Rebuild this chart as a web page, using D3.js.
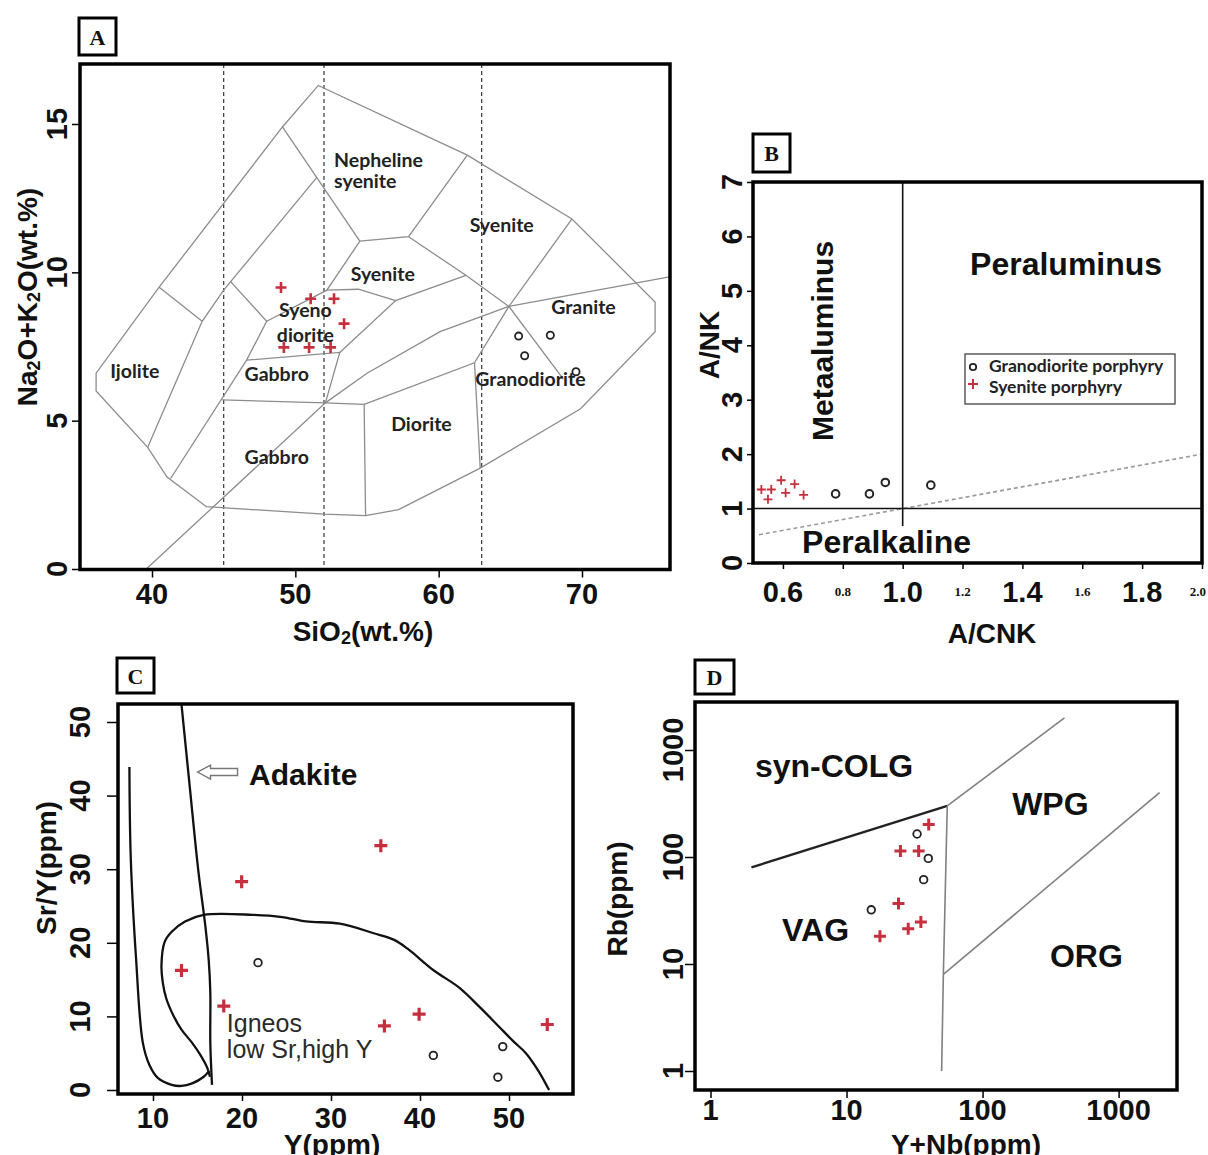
<!DOCTYPE html>
<html>
<head>
<meta charset="utf-8">
<script src="https://cdnjs.cloudflare.com/ajax/libs/d3/7.8.5/d3.min.js"></script>
<style>
body { margin:0; background:#fff; }
svg { display:block; }
text { font-family:"Liberation Sans", Arial, sans-serif; fill:#111; }
.tk { font-size:29px; font-weight:bold; }
.tks { font-family:"Liberation Serif", serif; font-size:13px; font-weight:bold; }
.ttl { font-size:28px; font-weight:bold; }
.big { font-size:32px; font-weight:bold; }
.meta { font-size:30px; font-weight:bold; }
.fld { font-family:Lato, sans-serif; font-size:19.5px; font-weight:bold; fill:#222; }
.leg { font-family:Lato, sans-serif; font-size:17.5px; font-weight:bold; fill:#222; }
.tag { font-family:"Liberation Serif", serif; font-size:22px; font-weight:bold; }
.ign { font-size:25px; fill:#2a2a2a; }
.frame { fill:none; stroke:#000; stroke-width:3.5; }
.axis line { stroke:#000; stroke-width:1.5; }
.axis .domain { display:none; }
</style>
</head>
<body>
<svg width="1208" height="1155"></svg>
<script>

/* ----------------------------------------------------------
data
---------------------------------------------------------- */

// A : SiO2 / Na2O+K2O  (plutonic TAS)
var tasXTicks = [40, 50, 60, 70];
var tasYTicks = [0, 5, 10, 15];
var tasDash = [45, 52, 63];
var tasOutline = [[43.8,2.1],[41.05,3.1],[39.7,4.1],[36.1,6.0],[36.1,6.6],[40.5,9.5],[49.1,14.9],[51.6,16.3],
	[62.0,13.95],[69.3,11.8],[75.1,9.0],[75.1,8.0],[69.9,5.4],[62.9,3.4],[57.2,2.0],[54.9,1.8],[52.0,1.85],[43.8,2.1]];
var tasLines = [
	[[49.1,14.9],[54.5,11.05]],
	[[62.0,13.95],[57.9,11.2],[54.5,11.05]],
	[[57.9,11.2],[61.9,9.9],[64.9,8.85]],
	[[61.9,9.9],[57.0,9.05],[53.1,7.3]],
	[[54.5,11.05],[52.2,9.4],[48.0,8.35]],
	[[52.2,9.4],[54.4,9.43],[57.0,9.05]],
	[[51.5,13.2],[45.0,9.4],[43.5,8.35],[39.7,4.1]],
	[[40.5,9.5],[43.5,8.35]],
	[[45.5,9.68],[48.0,8.35],[46.6,7.04],[41.3,3.05]],
	[[46.6,7.04],[53.1,7.3],[52.1,5.6]],
	[[44.9,5.7],[52.1,5.6],[54.8,5.55],[54.9,1.8]],
	[[54.8,5.55],[62.5,6.95],[64.9,8.85]],
	[[69.3,11.8],[64.9,8.85],[68.7,6.4]],
	[[62.5,6.95],[62.9,3.4]],
	[[39.6,0],[52.1,5.6],[55.0,6.6],[60.1,8.0],[64.9,8.85],[76.1,9.85]]
];
var tasFields = [
	["Nepheline",52.7,13.55,"start"],["syenite",52.7,12.85,"start"],
	["Syenite",64.4,11.35,"middle"],["Syenite",56.1,9.7,"middle"],
	["Syeno",50.7,8.48,"middle"],["diorite",50.7,7.64,"middle"],
	["Ijolite",38.8,6.45,"middle"],["Gabbro",48.7,6.35,"middle"],["Gabbro",48.7,3.55,"middle"],
	["Diorite",58.8,4.66,"middle"],["Granite",70.1,8.6,"middle"],["Granodiorite",66.4,6.18,"middle"]
];
var tasSyenite = [[49.0,9.49],[51.07,9.11],[52.7,9.11],[53.4,8.27],[49.2,7.47],[50.96,7.47],[52.46,7.47]];
var tasGranodiorite = [[65.58,7.85],[67.79,7.88],[66.0,7.19],[69.58,6.65]];

// B : A/CNK / A/NK
var acnkTicks = [0.6, 0.8, 1.0, 1.2, 1.4, 1.6, 1.8, 2.0];
var acnkBig = ["0.6", "1.0", "1.4", "1.8"];
var ankTicks = [0, 1, 2, 3, 4, 5, 6, 7];
var shandSyenite = [[0.528,1.35],[0.561,1.35],[0.55,1.17],[0.594,1.52],[0.609,1.29],[0.639,1.45],[0.669,1.25]];
var shandGranodiorite = [[0.776,1.27],[0.889,1.27],[0.942,1.48],[1.094,1.43]];
var legendVals = ["Granodiorite porphyry", "Syenite porphyry"];

// C : Y / Sr/Y
var cXTicks = [10, 20, 30, 40, 50];
var cYTicks = [0, 10, 20, 30, 40, 50];
var adakLeft = [[7.35,43.9],[7.5,31.6],[8.1,17.8],[8.86,6.4],[9.6,3.4],[10.57,1.6],[12.1,0.7],[13.2,0.55],[14.4,0.9],[15.7,1.8],[16.3,2.6]];
var adakRight = [[13.2,52.4],[14.17,40.7],[15.1,29.7],[15.87,22.4],[16.25,17.8],[16.44,13.3],[16.44,6.4],[16.63,0.7]];
var igneosField = [[16.4,1.8],[16.1,3.0],[15.3,4.8],[14.4,6.4],[13.2,8.2],[12.3,10.1],[11.5,12.4],[11.1,14.6],[10.95,16.9],
	[11.3,20.1],[12.1,21.5],[13.6,22.9],[15.7,23.8],[21.2,23.8],[24.5,23.5],[27.2,22.9],[31.0,22.6],[34.8,21.3],[37.1,20.4],
	[38.6,19.2],[41.6,16.2],[44.3,14.0],[46.6,11.4],[48.8,8.7],[50.5,6.6],[51.9,5.0],[53.3,2.6],[54.5,0]];
var adakArrow = [[19.5,43.2],[15.0,43.2]];
var adakSyenite = [[13.2,16.25],[19.96,28.3],[35.6,33.2],[17.95,11.4],[36.0,8.7],[39.9,10.3],[54.3,8.9]];
var adakGranodiorite = [[21.8,17.3],[41.5,4.7],[49.3,5.9],[48.75,1.74]];

// D : Y+Nb / Rb
var dTicks = [1, 10, 100, 1000];
var pearceColg = [[2,80],[55,300]];
var pearceLines = [[[55,300],[400,2000]], [[55,300],[51.5,8],[50,1]], [[51.5,8],[2000,400]]];
var pearceFields = [["syn-COLG",2.12,560],["WPG",165,247],["VAG",3.36,16.4],["ORG",313,9.4]];
var pearceSyenite = [[40.2,201],[24.9,114],[33.9,114],[24.1,36.8],[17.6,18.2],[28.4,21.3],[35.2,24.7]];
var pearceGranodiorite = [[33.0,164],[39.9,97],[36.9,61.4],[15.2,32.1]];

/* ----------------------------------------------------------
helpers
---------------------------------------------------------- */
var svg = d3.select("svg");
var red = "#c62f3e";

function label(g, x, y, txt, cls, anchor){
	return g.append("text").attr("x",x).attr("y",y).attr("class",cls)
		.attr("text-anchor",anchor||"middle").text(txt);
}
function vlabel(g, x, y, txt, cls){
	return g.append("text").attr("transform","translate("+x+","+y+") rotate(-90)")
		.attr("class",cls).attr("text-anchor","middle").text(txt);
}
function tag(x, y, w, h, letter){
	svg.append("rect").attr("x",x).attr("y",y).attr("width",w).attr("height",h)
		.style("fill","#fff").style("stroke","#000").style("stroke-width",3);
	label(svg, x+w/2, y+h/2+8, letter, "tag");
}
function frame(g, x0, y0, x1, y1){
	g.append("rect").attr("class","frame").attr("x",x0).attr("y",y0).attr("width",x1-x0).attr("height",y1-y0);
}
function crossPath(s){ return "M"+(-s)+",0H"+s+"M0,"+(-s)+"V"+s; }
function points(g, xs, ys, plus, ring, s, sw, r, rw){
	g.selectAll(null).data(plus).enter().append("path")
		.attr("d", crossPath(s))
		.attr("transform", function(d){ return "translate("+xs(d[0])+","+ys(d[1])+")"; })
		.style("stroke", red).style("stroke-width", sw).style("fill","none");
	g.selectAll(null).data(ring).enter().append("circle")
		.attr("cx", function(d){ return xs(d[0]); }).attr("cy", function(d){ return ys(d[1]); })
		.attr("r", r).style("fill","none").style("stroke","#222").style("stroke-width", rw);
}

/* ----------------------------------------------------------
A
---------------------------------------------------------- */
var A = {l:80, r:670, t:64, b:569.5};
var ax = d3.scaleLinear().domain([40,70]).range([152,582]);
var ay = d3.scaleLinear().domain([0,15]).range([569,124]);
var gA = svg.append("g");
var lineA = d3.line().x(function(d){return ax(d[0]);}).y(function(d){return ay(d[1]);});

gA.append("defs").append("clipPath").attr("id","clipA").append("rect")
	.attr("x",A.l).attr("y",A.t).attr("width",A.r-A.l).attr("height",A.b-A.t);
var gAc = gA.append("g").attr("clip-path","url(#clipA)");

gAc.selectAll(null).data(tasDash).enter().append("line")
	.attr("x1",function(d){return ax(d);}).attr("x2",function(d){return ax(d);})
	.attr("y1",A.t).attr("y2",A.b)
	.style("stroke","#444").style("stroke-width",1.3).style("stroke-dasharray","4,3");
gAc.append("path").attr("d", lineA(tasOutline)).style("fill","none").style("stroke","#8c8c8c").style("stroke-width",1.3);
gAc.selectAll(null).data(tasLines).enter().append("path")
	.attr("d", function(d){ return lineA(d); })
	.style("fill","none").style("stroke","#8c8c8c").style("stroke-width",1.3);

gA.selectAll(null).data(tasFields).enter().append("text")
	.attr("class","fld").attr("x",function(d){return ax(d[1]);}).attr("y",function(d){return ay(d[2]);})
	.attr("text-anchor",function(d){return d[3];}).text(function(d){return d[0];});

points(gA, ax, ay, tasSyenite, tasGranodiorite, 5.5, 2.6, 3.6, 1.8);

gA.append("g").attr("class","axis").attr("transform","translate(0,"+A.b+")")
	.call(d3.axisBottom(ax).tickValues(tasXTicks).tickSize(8).tickFormat(""));
gA.append("g").attr("class","axis").attr("transform","translate("+A.l+",0)")
	.call(d3.axisLeft(ay).tickValues(tasYTicks).tickSize(8).tickFormat(""));
tasXTicks.forEach(function(v){ label(gA, ax(v), 604, v, "tk"); });
tasYTicks.forEach(function(v){ vlabel(gA, 67, ay(v), v, "tk"); });

var sio = label(gA, 363, 641, "SiO", "ttl");
sio.append("tspan").attr("dy",3).style("font-size","18px").text("2");
sio.append("tspan").attr("dy",-3).text("(wt.%)");
var nak = vlabel(gA, 37, 297, "Na", "ttl");
nak.append("tspan").attr("dy",3).style("font-size","18px").text("2");
nak.append("tspan").attr("dy",-3).text("O+K");
nak.append("tspan").attr("dy",3).style("font-size","18px").text("2");
nak.append("tspan").attr("dy",-3).text("O(wt.%)");

frame(gA, A.l, A.t, A.r, A.b);
tag(79, 18, 37, 37, "A");

/* ----------------------------------------------------------
B
---------------------------------------------------------- */
var B = {l:753, r:1202, t:182, b:563};
var bx = d3.scaleLinear().domain([0.5,2.0]).range([B.l,B.r]);
var by = d3.scaleLinear().domain([0,7]).range([B.b,B.t]);
var gB = svg.append("g");

gB.append("line").attr("x1",bx(0.52)).attr("y1",by(0.52)).attr("x2",bx(2.0)).attr("y2",by(2.0))
	.style("stroke","#9a9a9a").style("stroke-width",1.6).style("stroke-dasharray","4,3");
gB.append("line").attr("x1",bx(1.0)).attr("x2",bx(1.0)).attr("y1",by(0.68)).attr("y2",B.t)
	.style("stroke","#111").style("stroke-width",1.6);
gB.append("line").attr("x1",B.l).attr("x2",B.r).attr("y1",by(1.0)).attr("y2",by(1.0))
	.style("stroke","#111").style("stroke-width",1.6);

label(gB, bx(1.546), by(5.29), "Peraluminus", "big");
label(gB, bx(0.664), by(0.18), "Peralkaline", "big", "start");
vlabel(gB, bx(0.767), by(4.08), "Metaaluminus", "meta");

points(gB, bx, by, shandSyenite, shandGranodiorite, 4.5, 1.8, 3.8, 2);

// legend
var gLegend = gB.append("g").attr("transform","translate(965,354)");
gLegend.append("rect").attr("width",210).attr("height",50)
	.style("fill","#fff").style("stroke","#333").style("stroke-width",1.2);
var legs = gLegend.selectAll(".legends").data(legendVals).enter().append("g")
	.attr("class","legends")
	.attr("transform", function(d,i){ return "translate(0,"+(13+i*21)+")"; });
legs.append("text").attr("x",24).attr("y",5).attr("class","leg").text(function(d){ return d; });
legs.filter(function(d,i){ return i==0; }).append("circle").attr("cx",8).attr("cy",0).attr("r",3.2)
	.style("fill","none").style("stroke","#222").style("stroke-width",1.8);
legs.filter(function(d,i){ return i==1; }).append("path").attr("d",crossPath(5)).attr("transform","translate(8,-4)")
	.style("stroke",red).style("stroke-width",2);

gB.append("g").attr("class","axis").attr("transform","translate(0,"+B.b+")")
	.call(d3.axisBottom(bx).tickValues(acnkTicks).tickSize(6).tickFormat(""));
gB.append("g").attr("class","axis").attr("transform","translate("+B.l+",0)")
	.call(d3.axisLeft(by).tickValues(ankTicks).tickSize(6).tickFormat(""));
acnkTicks.forEach(function(v, i){
	var s = v.toFixed(1);
	if (acnkBig.indexOf(s) >= 0) label(gB, bx(v), 602, s, "tk");
	else if (i == acnkTicks.length - 1) label(gB, 1206, 596, s, "tks", "end");
	else label(gB, bx(v), 596, s, "tks");
});
ankTicks.forEach(function(v){ vlabel(gB, 742, by(v), v, "tk"); });
label(gB, 992, 643, "A/CNK", "ttl");
vlabel(gB, 719, 345, "A/NK", "ttl");

frame(gB, B.l, B.t, B.r, B.b);
tag(753, 134, 37, 38, "B");

/* ----------------------------------------------------------
C
---------------------------------------------------------- */
var C = {l:118, r:573, t:704, b:1094};
var cx = d3.scaleLinear().domain([10,50]).range([153,509]);
var cy = d3.scaleLinear().domain([0,50]).range([1090,722]);
var gC = svg.append("g");
var lineC = d3.line().x(function(d){return cx(d[0]);}).y(function(d){return cy(d[1]);}).curve(d3.curveCatmullRom);

[adakLeft, adakRight, igneosField].forEach(function(p){
	gC.append("path").attr("d", lineC(p)).style("fill","none").style("stroke","#111").style("stroke-width",2.3);
});

// outline arrow
var a0 = [cx(adakArrow[0][0]), cy(adakArrow[0][1])], a1 = [cx(adakArrow[1][0]), cy(adakArrow[1][1])];
gC.append("path")
	.attr("d", "M"+a1[0]+","+a1[1]+"L"+(a1[0]+13)+","+(a1[1]-7)+"V"+(a1[1]-3.5)+"H"+a0[0]+"V"+(a0[1]+3.5)
		+"H"+(a1[0]+13)+"V"+(a1[1]+7)+"Z")
	.style("fill","#fff").style("stroke","#777").style("stroke-width",1.4);

label(gC, cx(20.8), cy(41.4), "Adakite", "big", "start").style("font-size","30px");
label(gC, cx(18.3), cy(7.88), "Igneos", "ign", "start");
label(gC, cx(18.3), cy(4.35), "low Sr,high Y", "ign", "start");

points(gC, cx, cy, adakSyenite, adakGranodiorite, 6.5, 3.2, 3.8, 1.8);

gC.append("g").attr("class","axis").attr("transform","translate(0,"+C.b+")")
	.call(d3.axisBottom(cx).tickValues(cXTicks).tickSize(7).tickFormat(""));
gC.append("g").attr("class","axis").attr("transform","translate("+C.l+",0)")
	.call(d3.axisLeft(cy).tickValues(cYTicks).tickSize(11).tickFormat(""));
cXTicks.forEach(function(v){ label(gC, cx(v), 1128, v, "tk"); });
cYTicks.forEach(function(v){ vlabel(gC, 90, cy(v), v, "tk"); });
label(gC, 332, 1154, "Y(ppm)", "ttl");
vlabel(gC, 56, 868, "Sr/Y(ppm)", "ttl");

frame(gC, C.l, C.t, C.r, C.b);
tag(117, 658, 37, 35, "C");

/* ----------------------------------------------------------
D
---------------------------------------------------------- */
var D = {l:695, r:1177, t:702, b:1090};
var dx = d3.scaleLog().domain([1,1000]).range([710.5,1118.6]);
var dy = d3.scaleLog().domain([1,1000]).range([1071,750]);
var gD = svg.append("g");
var lineD = d3.line().x(function(d){return dx(d[0]);}).y(function(d){return dy(d[1]);});

gD.append("path").attr("d", lineD(pearceColg)).style("fill","none").style("stroke","#222").style("stroke-width",2.4);
gD.selectAll(null).data(pearceLines).enter().append("path")
	.attr("d", function(d){ return lineD(d); })
	.style("fill","none").style("stroke","#808080").style("stroke-width",1.6);

gD.selectAll(null).data(pearceFields).enter().append("text")
	.attr("class","big").attr("x",function(d){return dx(d[1]);}).attr("y",function(d){return dy(d[2]);})
	.attr("text-anchor","start").text(function(d){return d[0];});

points(gD, dx, dy, pearceSyenite, pearceGranodiorite, 6, 3, 3.8, 1.8);

gD.append("g").attr("class","axis").attr("transform","translate(0,"+D.b+")")
	.call(d3.axisBottom(dx).tickValues(dTicks).tickSize(8).tickFormat(""));
gD.append("g").attr("class","axis").attr("transform","translate("+D.l+",0)")
	.call(d3.axisLeft(dy).tickValues(dTicks).tickSize(10).tickFormat(""));
dTicks.forEach(function(v){ label(gD, dx(v), 1120, v, "tk"); });
dTicks.forEach(function(v){ vlabel(gD, 683, dy(v), v, "tk"); });
label(gD, 966, 1154, "Y+Nb(ppm)", "ttl");
vlabel(gD, 627, 899, "Rb(ppm)", "ttl");

frame(gD, D.l, D.t, D.r, D.b);
tag(695, 660, 39, 34, "D");

</script>
</body>
</html>
